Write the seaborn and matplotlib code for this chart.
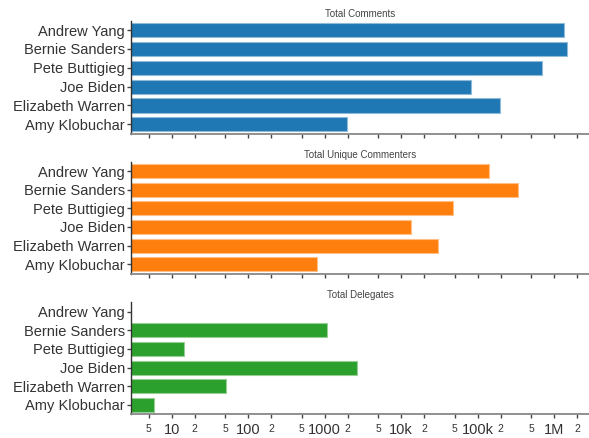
import numpy as np
import pandas as pd
import seaborn as sns
import matplotlib.pyplot as plt
from matplotlib.ticker import FixedLocator, FixedFormatter

# Values (log x axis)
candidates = ['Andrew Yang', 'Bernie Sanders', 'Pete Buttigieg',
              'Joe Biden', 'Elizabeth Warren', 'Amy Klobuchar']
total_comments = [1350000, 1480000, 700000, 82000, 194000, 1940]
unique_commenters = [141000, 341000, 48000, 13500, 30000, 805]
total_delegates = [np.nan, 1080, 14.5, 2630, 52, 5.9]

panel_titles = ['Total Comments', 'Total Unique Commenters', 'Total Delegates']
panel_colors = ['#1f77b4', '#ff7f0e', '#2ca02c']
edge_colors = ['#8fbbd9', '#ffbf87', '#95cf95']

major_ticks = [10, 100, 1000, 1e4, 1e5, 1e6]
major_labels = ['10', '100', '1000', '10k', '100k', '1M']
minor_ticks = [5, 20, 50, 200, 500, 2000, 5000, 2e4, 5e4, 2e5, 5e5, 2e6]
minor_labels = ['5', '2', '5', '2', '5', '2', '5', '2', '5', '2', '5', '2']


def style_axis(ax, title, show_labels):
    ax.set_xscale('log')
    ax.set_xlim(2.97, 2.85e6)
    ax.set_ylim(5.5, -0.5)
    ax.set_title(title, fontsize=7, color='#444444', pad=3)
    ax.set_xlabel('')
    ax.set_ylabel('')

    ax.xaxis.set_major_locator(FixedLocator(major_ticks))
    ax.xaxis.set_minor_locator(FixedLocator(minor_ticks))
    if show_labels:
        ax.xaxis.set_major_formatter(FixedFormatter(major_labels))
        ax.xaxis.set_minor_formatter(FixedFormatter(minor_labels))
    else:
        ax.xaxis.set_major_formatter(FixedFormatter([''] * len(major_ticks)))
        ax.xaxis.set_minor_formatter(FixedFormatter([''] * len(minor_ticks)))

    ax.tick_params(axis='x', which='major', length=3, width=1, color='#444444',
                   labelsize=10.5, labelcolor='#333333', pad=3.5)
    ax.tick_params(axis='x', which='minor', length=3, width=1, color='#444444',
                   labelsize=7.5, labelcolor='#333333', pad=4)
    ax.tick_params(axis='y', length=3, width=1, color='#444444',
                   labelsize=10.5, labelcolor='#333333', pad=1.5)

    sns.despine(ax=ax)
    ax.spines['left'].set_color('#333333')
    ax.spines['left'].set_linewidth(1)
    ax.spines['bottom'].set_color('#888888')
    ax.spines['bottom'].set_linewidth(1.3)


def create_plot():
    sns.set_style('ticks')
    plt.rcParams['font.family'] = ['Liberation Sans', 'DejaVu Sans']

    fig = plt.figure(figsize=(5.89, 4.38), dpi=100)
    W, H = 589, 438
    # panel top / bottom in pixels
    panels = [(20.7, 133.7), (161.7, 273.5), (302.3, 414.3)]
    left, right = 131.3, 589

    series = [total_comments, unique_commenters, total_delegates]
    for i, (vals, (top, bot)) in enumerate(zip(series, panels)):
        ax = fig.add_axes([left / W, 1 - bot / H, (right - left) / W, (bot - top) / H])
        df = pd.DataFrame({'Candidate': candidates, 'Value': vals})
        sns.barplot(data=df, x='Value', y='Candidate', order=candidates,
                    color=panel_colors[i], saturation=1, width=0.75,
                    edgecolor=edge_colors[i], linewidth=0.8, ax=ax)
        style_axis(ax, panel_titles[i], show_labels=(i == 2))

    plt.savefig('out.png', dpi=100)
    plt.close()


create_plot()
